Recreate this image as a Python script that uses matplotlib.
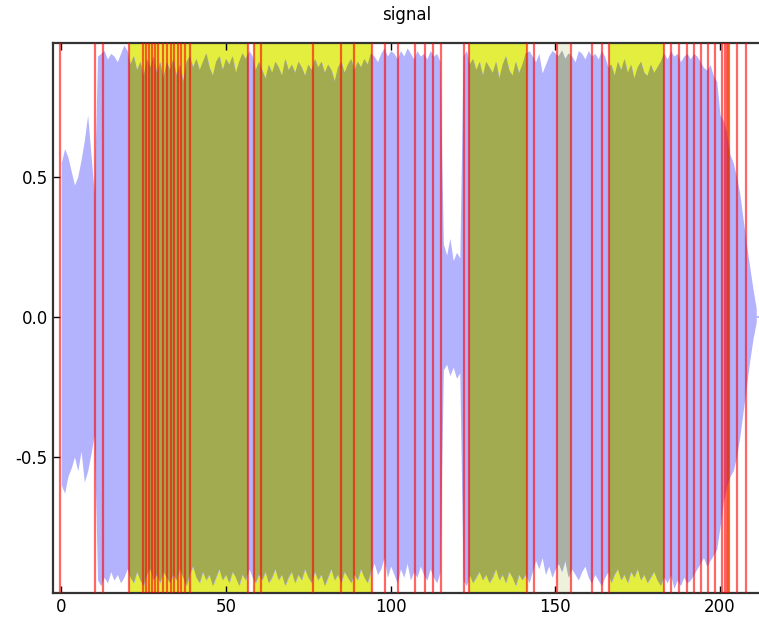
import numpy as np
import matplotlib
matplotlib.use("Agg")
import matplotlib.pyplot as plt

plt.rcParams.update({
    "font.family":        "DejaVu Sans",
    "font.size":          12,
    "axes.unicode_minus": False,
})

# segment boundaries (red lines), seconds
onsets = [
    -0.4, 10.2, 12.7, 20.6, 24.8, 25.7, 26.5, 27.4, 28.5, 29.5, 30.9, 32.1,
    33.2, 34.3, 35.3, 36.4, 37.6, 39.1, 56.7, 58.4, 60.6, 76.3, 85.0, 88.9,
    94.3, 98.2, 102.1, 107.5, 110.4, 113.0, 115.4, 122.2, 123.8, 141.3, 143.4,
    150.6, 154.7, 161.1, 164.3, 166.3, 183.0, 185.0, 187.5, 190.0, 192.1,
    194.1, 196.3, 198.4, 200.5, 201.4, 202.0, 202.6, 205.3, 207.8,
]
# highlighted segments
yellow_segments = [(20.6, 56.7), (58.4, 94.3), (123.8, 141.3),
                   (166.3, 183.0), (202.0, 202.6)]
grey_segments = [(150.6, 154.7)]

# waveform envelope, one value per second (0 .. 211)
env_upper = [
    0.55, 0.60, 0.57, 0.52, 0.47, 0.50, 0.56, 0.63, 0.72, 0.58, 0.44,
    0.93, 0.94, 0.95, 0.92, 0.94, 0.93, 0.91, 0.94, 0.97, 0.95,
    0.90, 0.93, 0.88, 0.91, 0.86, 0.92, 0.89, 0.93, 0.87, 0.91,
    0.85, 0.91, 0.88, 0.92, 0.86, 0.90, 0.84, 0.91, 0.93, 0.89,
    0.92, 0.88, 0.91, 0.94, 0.89, 0.86, 0.91, 0.93, 0.88, 0.92,
    0.90, 0.93, 0.87, 0.91, 0.94, 0.92, 0.95, 0.93, 0.88, 0.91,
    0.88, 0.85, 0.90, 0.87, 0.91, 0.89, 0.86, 0.92, 0.88, 0.90,
    0.87, 0.91, 0.89, 0.86, 0.90, 0.88, 0.92, 0.89, 0.91, 0.87,
    0.90, 0.88, 0.84, 0.89, 0.91, 0.87, 0.90, 0.92, 0.88, 0.91,
    0.89, 0.92, 0.90, 0.94, 0.93, 0.91, 0.94, 0.96, 0.93, 0.95,
    0.94, 0.92, 0.95, 0.93, 0.96, 0.94, 0.92, 0.95, 0.93, 0.94,
    0.92, 0.95, 0.93, 0.94, 0.91,
    0.26, 0.22, 0.28, 0.20, 0.23, 0.21,
    0.93, 0.95, 0.90, 0.92, 0.88, 0.91, 0.86, 0.91, 0.89,
    0.87, 0.91, 0.85, 0.90, 0.93, 0.88, 0.86, 0.91, 0.87, 0.90,
    0.94, 0.95, 0.93, 0.91, 0.94, 0.87, 0.90, 0.93, 0.95, 0.94,
    0.93, 0.95, 0.92, 0.94, 0.93, 0.91, 0.95, 0.94, 0.92, 0.95,
    0.93, 0.94, 0.92, 0.95, 0.93, 0.89, 0.90, 0.86, 0.91, 0.88,
    0.92, 0.87, 0.90, 0.85, 0.89, 0.91, 0.87, 0.86, 0.90, 0.87,
    0.89, 0.91, 0.94, 0.92, 0.95, 0.93, 0.94, 0.91, 0.93, 0.94,
    0.92, 0.94, 0.93, 0.91, 0.89, 0.88, 0.90, 0.86, 0.84,
    0.72, 0.70, 0.66, 0.58, 0.55, 0.50, 0.44, 0.35, 0.26, 0.18, 0.10, 0.03,
]
env_lower = [
    -0.60, -0.63, -0.57, -0.54, -0.50, -0.55, -0.48, -0.59, -0.55, -0.49, -0.42,
    -0.94, -0.96, -0.93, -0.95, -0.91, -0.94, -0.92, -0.95, -0.93, -0.90,
    -0.93, -0.95, -0.91, -0.94, -0.96, -0.92, -0.90, -0.94, -0.92, -0.95,
    -0.91, -0.93, -0.95, -0.92, -0.94, -0.90, -0.93, -0.96, -0.92, -0.89,
    -0.93, -0.95, -0.91, -0.94, -0.92, -0.96, -0.93, -0.90, -0.94, -0.92,
    -0.95, -0.91, -0.93, -0.96, -0.92, -0.94, -0.90, -0.93, -0.95, -0.92,
    -0.94, -0.91, -0.95, -0.93, -0.90, -0.94, -0.92, -0.96, -0.93, -0.91,
    -0.95, -0.92, -0.94, -0.90, -0.93, -0.95, -0.91, -0.94, -0.92, -0.96,
    -0.93, -0.90, -0.94, -0.92, -0.95, -0.91, -0.93, -0.95, -0.92, -0.94,
    -0.90, -0.93, -0.95, -0.91, -0.88, -0.92, -0.90, -0.86, -0.93, -0.89,
    -0.92, -0.95, -0.90, -0.93, -0.88, -0.94, -0.91, -0.93, -0.89, -0.92,
    -0.94, -0.90, -0.93, -0.95, -0.91,
    -0.19, -0.17, -0.21, -0.18, -0.22, -0.20,
    -0.94, -0.96, -0.92, -0.95, -0.93, -0.91, -0.94, -0.92, -0.95,
    -0.93, -0.90, -0.94, -0.92, -0.95, -0.91, -0.93, -0.96, -0.92, -0.94,
    -0.92, -0.95, -0.91, -0.87, -0.90, -0.86, -0.92, -0.89, -0.93, -0.90,
    -0.88, -0.91, -0.87, -0.93, -0.90, -0.92, -0.94, -0.91, -0.89, -0.93,
    -0.95, -0.92, -0.94, -0.96, -0.93, -0.91, -0.95, -0.92, -0.90, -0.94,
    -0.92, -0.95, -0.91, -0.93, -0.90, -0.94, -0.92, -0.95, -0.93, -0.91,
    -0.94, -0.96, -0.93, -0.95, -0.92, -0.97, -0.94, -0.96, -0.93, -0.95,
    -0.94, -0.92, -0.90, -0.88, -0.86, -0.89, -0.87, -0.85, -0.83,
    -0.75, -0.66, -0.61, -0.57, -0.55, -0.50, -0.43, -0.34, -0.25, -0.16, -0.08, -0.02,
]
env_t = np.arange(len(env_upper))

BLUE      = "#b2b2fd"
YELLOW    = "#e3ee3e"
OLIVE     = "#a2ab4f"
GREY      = "#a9b1a4"
GREY_PALE = "#eef1dc"

fig = plt.figure(figsize=(7.59, 6.2), dpi=100)
ax = fig.add_axes([53.3 / 759, 1 - 592.7 / 620, (760.5 - 53.3) / 759, 550 / 620])

for s, e in yellow_segments:
    ax.axvspan(s, e, color=YELLOW, lw=0, zorder=1)
for s, e in grey_segments:
    ax.axvspan(s, e, color=GREY_PALE, lw=0, zorder=1)

env = ax.fill_between(env_t, env_lower, env_upper, color=BLUE, lw=0, zorder=2)
ax.plot([env_t[-1], 213], [0, 0], color=BLUE, lw=1.2, zorder=2)

# overlap of signal and highlighted segments
clip = env.get_paths()[0]
for segs, col in ((yellow_segments, OLIVE), (grey_segments, GREY)):
    for s, e in segs:
        p = ax.axvspan(s, e, color=col, lw=0, zorder=3)
        p.set_clip_path(clip, ax.transData)

for x in onsets:
    ax.axvline(x, color="red", alpha=0.6, lw=1.6, zorder=4)

ax.set_xlim(-2.43, 212.3)
ax.set_ylim(-0.985, 0.978)
ax.set_xticks([0, 50, 100, 150, 200])
ax.set_yticks([-0.5, 0.0, 0.5])
ax.set_yticklabels(["-0.5", "0.0", "0.5"])
ax.tick_params(direction="in", length=5, width=1, top=True, right=False,
               labelsize=12, pad=4)
for side in ("left", "top", "bottom"):
    ax.spines[side].set_linewidth(1.6)
    ax.spines[side].set_color("#333333")
ax.spines["right"].set_visible(False)
ax.set_title("signal", fontsize=12, pad=16)

fig.savefig("out.png", dpi=100)
